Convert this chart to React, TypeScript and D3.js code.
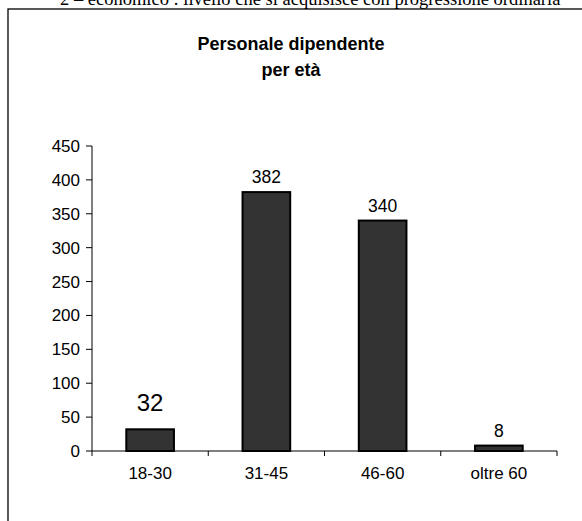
import React from 'react';
import * as d3 from 'd3';

const categories = ['18-30', '31-45', '46-60', 'oltre 60'];
const values = [32, 382, 340, 8];
const yTicks = [0, 50, 100, 150, 200, 250, 300, 350, 400, 450];
const titleLines = ['Personale dipendente', 'per età'];
const headerText = '2  –  economico : livello che si acquisisce con progressione ordinaria';

const width = 582;
const height = 521;
const font = '"Liberation Sans", Arial, sans-serif';

const App: React.FC = () => {
  const x = d3.scaleBand<string>().domain(categories).range([92, 557]).padding(0);
  const y = d3.scaleLinear().domain([0, 450]).range([451, 146]);
  const barW = x.bandwidth() * 0.41;
  const boundaries = [...categories.map(c => x(c) as number), 557];

  return (
    <svg
      width={width}
      height={height}
      style={{ position: 'absolute', left: 0, top: 0, background: '#fff' }}
    >
      {/* cut-off line of the document above the chart */}
      <text x={60} y={5} fontFamily='"Liberation Serif", "Times New Roman", serif' fontSize={18.5} fill="#000">
        {headerText}
      </text>

      {/* chart frame */}
      <rect x={8} y={9} width={600} height={540} fill="#fff" stroke="#000" strokeWidth={1.3} />

      {/* title */}
      {titleLines.map((t, i) => (
        <text
          key={t}
          x={291}
          y={50 + i * 26}
          textAnchor="middle"
          fontFamily={font}
          fontSize={18}
          fontWeight="bold"
          fill="#000"
        >
          {t}
        </text>
      ))}

      {/* bars */}
      {values.map((v, i) => {
        const cx = (x(categories[i]) as number) + x.bandwidth() / 2;
        return (
          <g key={categories[i]}>
            <rect
              x={cx - barW / 2}
              y={y(v)}
              width={barW}
              height={y(0) - y(v)}
              fill="#333333"
              stroke="#000"
              strokeWidth={2}
            />
            <text
              x={cx}
              y={y(v) - (i === 0 ? 18 : 9)}
              textAnchor="middle"
              fontFamily={font}
              fontSize={i === 0 ? 24 : 17.5}
              fill="#000"
            >
              {v}
            </text>
          </g>
        );
      })}

      {/* y axis */}
      <line x1={92} x2={92} y1={y(450)} y2={y(0)} stroke="#000" strokeWidth={1} />
      {yTicks.map(t => (
        <g key={t}>
          <line x1={86} x2={92} y1={y(t)} y2={y(t)} stroke="#000" />
          <text
            x={80}
            y={y(t)}
            dy="0.35em"
            textAnchor="end"
            fontFamily={font}
            fontSize={17}
            fill="#000"
          >
            {t}
          </text>
        </g>
      ))}

      {/* x axis */}
      <line x1={92} x2={557} y1={y(0)} y2={y(0)} stroke="#000" strokeWidth={1} />
      {boundaries.map((b, i) => (
        <line key={i} x1={b} x2={b} y1={y(0)} y2={y(0) + 5} stroke="#000" />
      ))}
      {categories.map(c => (
        <text
          key={c}
          x={(x(c) as number) + x.bandwidth() / 2}
          y={479}
          textAnchor="middle"
          fontFamily={font}
          fontSize={17}
          fill="#000"
        >
          {c}
        </text>
      ))}
    </svg>
  );
};

export default App;
